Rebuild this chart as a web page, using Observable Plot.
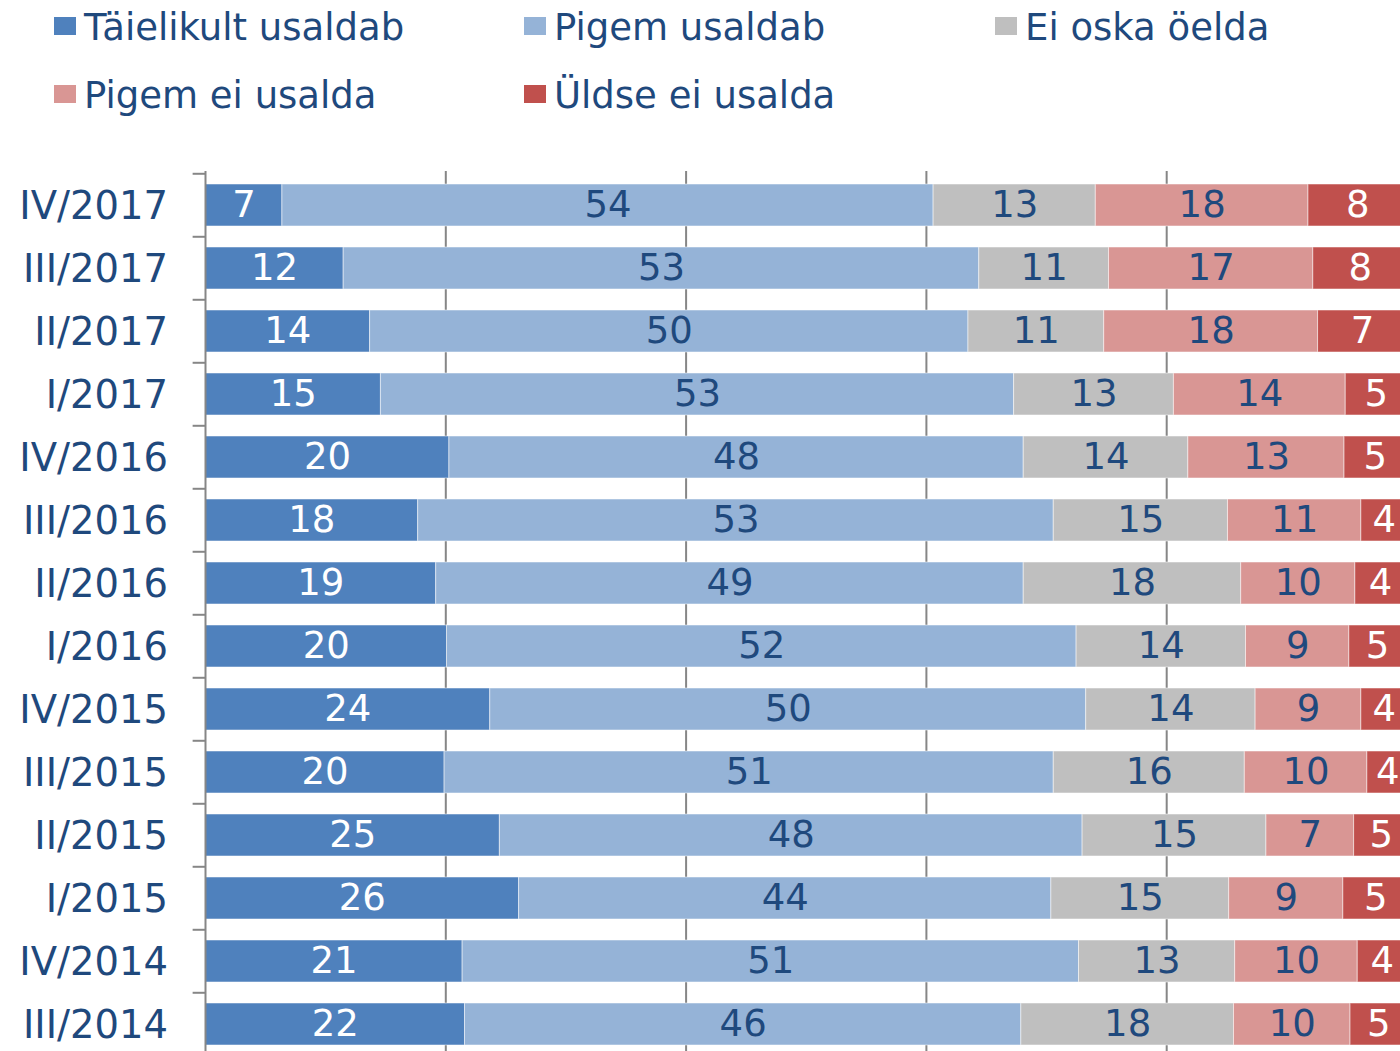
<!DOCTYPE html>
<html><head><meta charset="utf-8">
<script src="https://cdn.jsdelivr.net/npm/d3@7"></script>
<script src="https://cdn.jsdelivr.net/npm/@observablehq/plot@0.6"></script>
<style>
html,body{margin:0;padding:0;overflow:hidden;background:#fff;width:1400px;height:1051px}
#legend{position:relative;height:140px;font-family:"DejaVu Sans";font-size:37px;color:#1F497D}
.sw{position:absolute;width:22px;height:18px}
.lt{position:absolute;line-height:37px;white-space:nowrap}
</style></head><body>
<div id="legend"></div><div id="chart"></div>
<script>
const periods = ["IV/2017","III/2017","II/2017","I/2017","IV/2016","III/2016","II/2016","I/2016","IV/2015","III/2015","II/2015","I/2015","IV/2014","III/2014"];
const series = ["Täielikult usaldab","Pigem usaldab","Ei oska öelda","Pigem ei usalda","Üldse ei usalda"];
const colors = ["#4F81BD","#95B3D7","#BFBFBF","#D99694","#C0504D"];
const labelColors = ["white","#1F497D","#1F497D","#1F497D","white"];

// shares (%) as drawn (bar lengths)
const taielikult   = [6.4,11.5,13.7,14.6,20.3,17.7,19.2,20.1,23.7,19.9,24.5,26.1,21.4,21.6];
const pigemUsaldab = [54.2,52.9,49.8,52.7,47.8,52.9,48.9,52.4,49.6,50.7,48.5,44.3,51.3,46.3];
const eiOska       = [13.5,10.8,11.3,13.3,13.7,14.5,18.1,14.1,14.1,15.9,15.3,14.8,13.0,17.7];
const pigemEi      = [17.7,17.0,17.8,14.3,13.0,11.1,9.5,8.6,8.8,10.2,7.3,9.5,10.2,9.7];
const uldseEi      = [8.2,7.8,7.4,5.1,5.1,3.8,4.2,4.7,3.8,3.4,4.5,5.4,4.1,4.7];

// printed labels
const labTaielikult   = [7,12,14,15,20,18,19,20,24,20,25,26,21,22];
const labPigemUsaldab = [54,53,50,53,48,53,49,52,50,51,48,44,51,46];
const labEiOska       = [13,11,11,13,14,15,18,14,14,16,15,15,13,18];
const labPigemEi      = [18,17,18,14,13,11,10,9,9,10,7,9,10,10];
const labUldseEi      = [8,8,7,5,5,4,4,5,4,4,5,5,4,5];

const gridTicks = [20,40,60,80];

const valueArrays = [taielikult, pigemUsaldab, eiOska, pigemEi, uldseEi];
const labelArrays = [labTaielikult, labPigemUsaldab, labEiOska, labPigemEi, labUldseEi];

const table = [];
series.forEach((s, si) => {
  periods.forEach((p, pi) => {
    table.push({period: p, series: s, si, value: valueArrays[si][pi], label: String(labelArrays[si][pi])});
  });
});

// legend
const legend = document.getElementById("legend");
const colX = [54, 524, 995];
const rowTop = [17, 85];
series.forEach((s, i) => {
  const c = i % 3, r = Math.floor(i / 3);
  const sw = document.createElement("div");
  sw.className = "sw";
  sw.style.left = colX[c] + "px";
  sw.style.top = rowTop[r] + "px";
  sw.style.background = colors[i];
  legend.appendChild(sw);
  const t = document.createElement("div");
  t.className = "lt";
  t.style.left = (colX[c] + 30) + "px";
  t.style.top = (rowTop[r] - 8) + "px";
  t.textContent = s;
  legend.appendChild(t);
});

const H = 919, MT = 31, MB = 0;
const step = (H - MT - MB) / periods.length;

const stackOpts = {x: "value", y: "period", z: "series"};

const chart = Plot.plot({
  width: 1410,
  height: H,
  marginLeft: 205,
  marginRight: 3.5,
  marginTop: MT,
  marginBottom: MB,
  style: {fontFamily: "DejaVu Sans", fontSize: "38px", color: "#1F497D", background: "white", maxWidth: "none", overflow: "visible"},
  x: {domain: [0, 100], axis: null},
  y: {domain: periods, paddingInner: 0.333, paddingOuter: 0.1667, axis: null, label: null},
  color: {domain: series, range: colors},
  marks: [
    Plot.ruleX(gridTicks, {stroke: "#868686", strokeWidth: 2}),
    Plot.barX(table, Plot.stackX({...stackOpts, fill: "series", stroke: "white", strokeWidth: 1, strokeOpacity: 0.5})),
    Plot.ruleX([0], {stroke: "#868686", strokeWidth: 2}),
    Plot.ruleY(periods, {y: d => d, x1: -1.03, x2: 0, dy: -step / 2, stroke: "#868686", strokeWidth: 2}),
    ...labelColors.map((col, si) =>
      Plot.text(table, Plot.filter(d => d.si === si, Plot.stackX({...stackOpts, text: "label", fill: col, fontSize: 37, dy: 0})))
    ),
    Plot.axisY({tickSize: 0, tickPadding: 37.5, fontSize: 38.5, dy: 1, fill: "#1F497D", label: null})
  ]
});
document.getElementById("chart").appendChild(chart);
</script>
</body></html>
